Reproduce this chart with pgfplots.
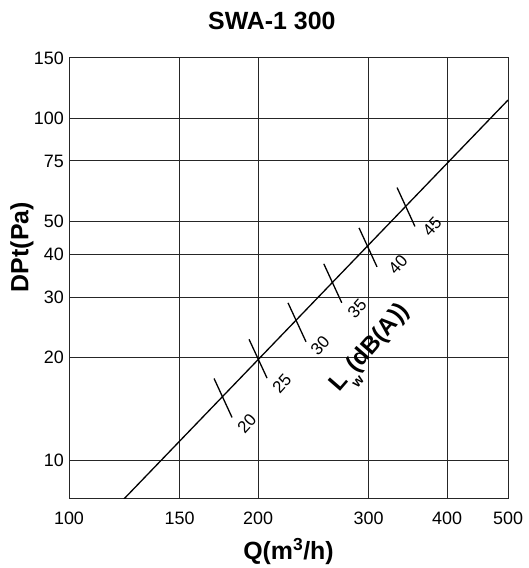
\documentclass[border=0pt]{standalone}
\usepackage{fontspec}
\setmainfont{Liberation Sans}
\usepackage{pgfplots}
\pgfplotsset{compat=1.18}

\begin{document}
\begin{tikzpicture}
\begin{axis}[
    name=ax,
    scale only axis,
    width=439bp, height=441bp,
    xmode=log, ymode=log,
    xmin=100, xmax=500, ymin=7.7, ymax=150,
    xtick={100,150,200,300,400,500},
    xticklabels={100,150,200,300,400,500},
    ytick={10,20,30,40,50,75,100,150},
    yticklabels={10,20,30,40,50,75,100,150},
    minor tick num=0,
    tick style={draw=none},
    grid=major,
    major grid style={black!85, line width=1bp},
    axis line style={black!85, line width=1bp},
    /pgf/number format/assume math mode=true,
    ticklabel style={font=\fontsize{18}{20}\selectfont},
    xticklabel style={anchor=center, yshift=-19bp},
    yticklabel style={anchor=east, inner sep=0pt, xshift=-5bp},
    title={\textbf{SWA-1 300}},
    title style={at={(axis description cs:0.462,1.070)}, anchor=center,
                 font=\fontsize{25}{28}\selectfont},
    xlabel={\textbf{Q(m\textsuperscript{3}/h)}},
    xlabel style={at={(axis description cs:0.5,-0.12)}, anchor=center,
                  font=\fontsize{25}{28}\selectfont},
    ylabel={\textbf{DPt(Pa)}},
    ylabel style={at={(axis description cs:-0.107,0.571)}, anchor=center,
                  font=\fontsize{25}{28}\selectfont},
]
% system line
\addplot[black, line width=1.3bp] coordinates {(122.3,7.7) (500,113)};
% sound power marks along the line
\addplot[black, line width=1.3bp] coordinates {(170.2,17.33) (181.8,13.33)};
\addplot[black, line width=1.3bp] coordinates {(193.5,22.57) (206.7,17.37)};
\addplot[black, line width=1.3bp] coordinates {(223.2,28.84) (238.4,22.19)};
\addplot[black, line width=1.3bp] coordinates {(254.5,37.51) (271.8,28.86)};
\addplot[black, line width=1.3bp] coordinates {(289.6,47.77) (309.3,36.75)};
\addplot[black, line width=1.3bp] coordinates {(332.9,62.7) (355.5,48.25)};

\node[rotate=48, font=\fontsize{17}{19}\selectfont] at (axis cs:192,12.8) {20};
\node[rotate=48, font=\fontsize{17}{19}\selectfont] at (axis cs:218.2,16.8) {25};
\node[rotate=48, font=\fontsize{17}{19}\selectfont] at (axis cs:251,21.7) {30};
\node[rotate=48, font=\fontsize{17}{19}\selectfont] at (axis cs:287.5,27.8) {35};
\node[rotate=48, font=\fontsize{17}{19}\selectfont] at (axis cs:334,37.2) {40};
\node[rotate=48, font=\fontsize{17}{19}\selectfont] at (axis cs:378.6,48.1) {45};
\node[rotate=49, inner sep=0pt, font=\fontsize{24}{27}\selectfont\bfseries] at (axis cs:304,21.0)
    {L\raisebox{-0.45em}{\fontsize{14}{16}\selectfont w}(dB(A))};
\end{axis}
\pgfresetboundingbox
\path ([shift={(-69bp,-69bp)}]ax.south west) rectangle ([shift={(21bp,58bp)}]ax.north east);
\end{tikzpicture}
\end{document}
